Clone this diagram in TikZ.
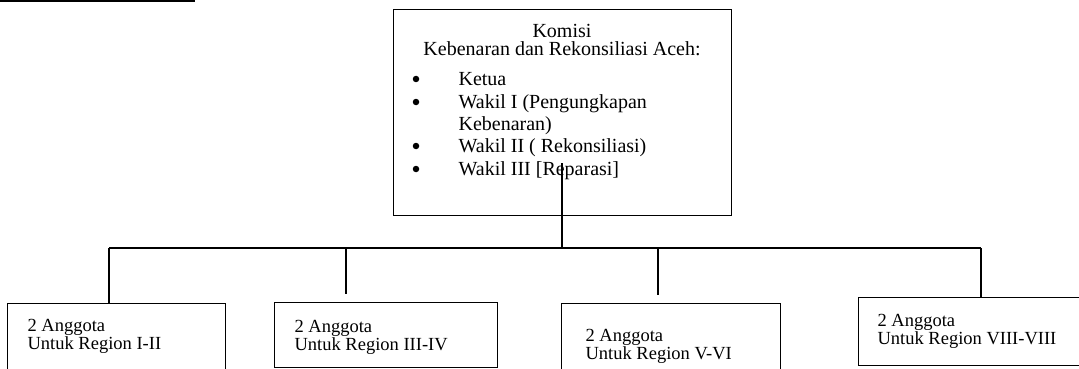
\documentclass[tikz,border=0pt]{standalone}
\usepackage{fontspec}
\setmainfont{Liberation Serif}
\begin{document}
\begin{tikzpicture}[x=1pt,y=-1pt,line width=1.2pt,
  boxnode/.style={draw,line width=1.2pt,inner sep=0pt,anchor=north west},
  ktext/.style={font=\fontsize{20}{23}\selectfont,anchor=base,inner sep=0pt},
  ltext/.style={font=\fontsize{20}{23}\selectfont,anchor=base west,inner sep=0pt},
  bul/.style={circle,fill,inner sep=0pt,minimum size=6.5pt},
  btext/.style={font=\fontsize{18.5}{19}\selectfont,anchor=base west,inner sep=0pt},
  conn/.style={line width=1.3pt}]
\useasboundingbox (0,0) rectangle (1079,369);
% stray rule at top left
\coordinate (ruleL) at (0,1.2);
\coordinate (ruleR) at (195,1.2);
\draw[line width=1.6pt] (ruleL) -- (ruleR);
% main box
\node[boxnode,minimum width=338pt,minimum height=206pt] (kom) at (393,9) {};
\node[ktext] (t1) at (562,38) {Komisi};
\node[ktext] (t2) at (562,56) {Kebenaran dan Rekonsiliasi Aceh:};
\node[bul] (b1) at (416,79) {};
\node[bul] (b2) at (416,102) {};
\node[bul] (b3) at (416,146) {};
\node[bul] (b4) at (416,169) {};
\node[ltext] (l1) at (458,85) {Ketua};
\node[ltext] (l2) at (458,108) {Wakil I (Pengungkapan};
\node[ltext] (l2b) at (458,130) {Kebenaran)};
\node[ltext] (l3) at (458,152) {Wakil II ( Rekonsiliasi)};
\node[ltext] (l4) at (458,175) {Wakil III [Reparasi]};
% lower boxes
\node[boxnode,minimum width=218pt,minimum height=100pt] (r1) at (7,303) {};
\node[boxnode,minimum width=223pt,minimum height=65pt] (r2) at (274,302) {};
\node[boxnode,minimum width=219pt,minimum height=100pt] (r3) at (561,303) {};
\node[boxnode,minimum width=230pt,minimum height=68pt] (r4) at (858,297) {};
\node[btext] (r1a) at (27,331) {2 Anggota};
\node[btext] (r1b) at (27,349) {Untuk Region I-II};
\node[btext] (r2a) at (294,332) {2 Anggota};
\node[btext] (r2b) at (294,350) {Untuk Region III-IV};
\node[btext] (r3a) at (585,341) {2 Anggota};
\node[btext] (r3b) at (585,359) {Untuk Region V-VI};
\node[btext] (r4a) at (877,326) {2 Anggota};
\node[btext] (r4b) at (877,344) {Untuk Region VIII-VIII};
% connectors
\coordinate (stemtop) at (562,163);
\coordinate (stembot) at (562,248);
\coordinate (barL) at (109,248);
\coordinate (barR) at (981,248);
\coordinate (d2top) at (346,248);
\coordinate (d2bot) at (346,294);
\coordinate (d3top) at (658,248);
\coordinate (d3bot) at (658,295);
\draw[conn] (stemtop) -- (stembot);
\draw[conn,line width=1.6pt] (barL) -- (barR);
\draw[conn] (barL) -- (barL |- r1.north);
\draw[conn] (d2top) -- (d2bot);
\draw[conn] (d3top) -- (d3bot);
\draw[conn] (barR) -- (barR |- r4.north);
\end{tikzpicture}
\end{document}
